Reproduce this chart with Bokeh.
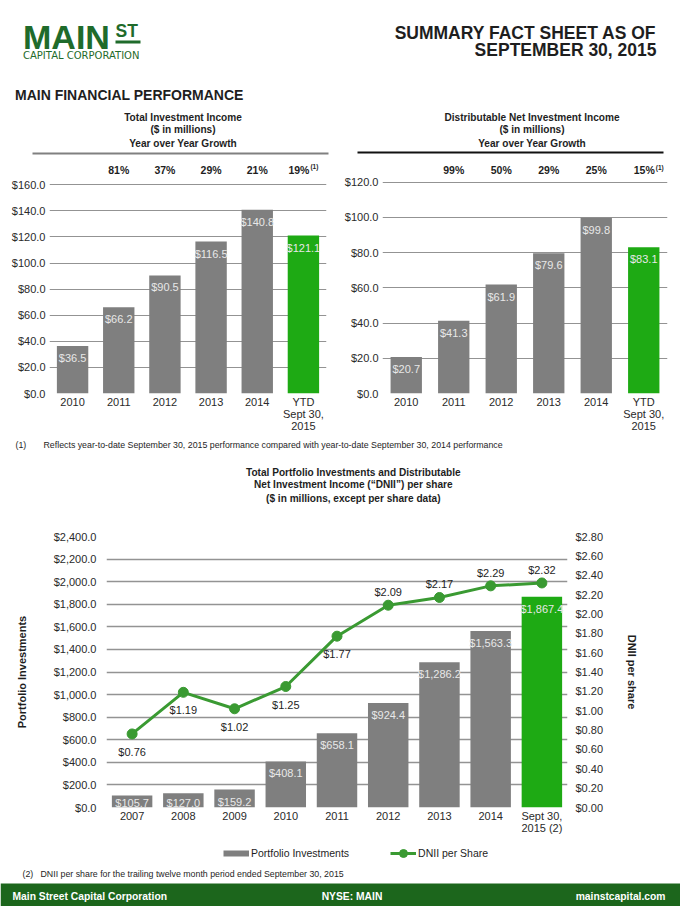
from bokeh.plotting import figure
from bokeh.models import (Range1d, FactorRange, LinearAxis, NumeralTickFormatter,
                          FixedTicker, Legend, LegendItem, ColumnDataSource)
from bokeh.layouts import column, row
from bokeh.core.properties import value
from bokeh.embed import file_html
from bokeh.resources import INLINE

# ---------------- data ----------------
tii_categories = ["2010", "2011", "2012", "2013", "2014", "YTD\nSept 30,\n2015"]
tii_values = [36.5, 66.2, 90.5, 116.5, 140.8, 121.1]
tii_growth = ["81%", "37%", "29%", "21%", "19%"]
tii_ticks = [0, 20, 40, 60, 80, 100, 120, 140, 160]

dnii_categories = ["2010", "2011", "2012", "2013", "2014", "YTD\nSept 30,\n2015"]
dnii_values = [20.7, 41.3, 61.9, 79.6, 99.8, 83.1]
dnii_growth = ["99%", "50%", "29%", "25%", "15%"]
dnii_ticks = [0, 20, 40, 60, 80, 100, 120]

port_categories = ["2007", "2008", "2009", "2010", "2011", "2012", "2013", "2014",
                   "Sept 30,\n2015 (2)"]
port_values = [105.7, 127.0, 159.2, 408.1, 658.1, 924.4, 1286.2, 1563.3, 1867.4]
dnii_per_share = [0.76, 1.19, 1.02, 1.25, 1.77, 2.09, 2.17, 2.29, 2.32]
port_ticks = [0, 200, 400, 600, 800, 1000, 1200, 1400, 1600, 1800, 2000, 2200, 2400]
dps_ticks = [0.0, 0.2, 0.4, 0.6, 0.8, 1.0, 1.2, 1.4, 1.6, 1.8, 2.0, 2.2, 2.4, 2.6, 2.8]

# ---------------- styles ----------------
FONT_NAME = "Liberation Sans"
FONT = value(FONT_NAME)
GRAY = "#7F7F7F"
BRIGHT_GREEN = "#1EAA14"
LINE_GREEN = "#3A9A32"
DARK_GREEN = "#1C661C"
LOGO_GREEN = "#1F6B2B"
GRID = "#939393"
TXT = "#1E1E1E"
W = 680


def canvas(w, h):
    p = figure(width=w, height=h, x_range=Range1d(0, w), y_range=Range1d(h, 0),
               output_backend="svg", toolbar_location=None, title=None,
               x_axis_type=None, y_axis_type=None, min_border=0)
    p.outline_line_color = None
    p.background_fill_color = "white"
    return p


def txt(p, x, y, s, size, bold=False, color=TXT, align="left", font=FONT):
    p.text(x=[x], y=[y], text=[s], text_font=font, text_font_size=f"{size}px",
           text_font_style="bold" if bold else "normal", text_color=color,
           text_align=align, text_baseline="middle")


def style_axis(ax):
    ax.axis_line_color = None
    ax.major_tick_line_color = None
    ax.minor_tick_line_color = None
    ax.major_tick_out = 0
    ax.major_tick_in = 0
    ax.minor_tick_out = 0
    ax.major_label_text_font = FONT_NAME
    ax.major_label_text_font_size = "11px"
    ax.major_label_text_color = "#2A2A2A"
    ax.axis_label_text_font = FONT_NAME
    ax.axis_label_text_font_size = "11px"
    ax.axis_label_text_font_style = "bold"
    ax.axis_label_text_color = TXT


# ---------------- header (page y 0-162) ----------------
pA = canvas(W, 162)
txt(pA, 22.5, 36, "MAIN", 34, bold=True, color=LOGO_GREEN)
txt(pA, 115, 30, "ST", 17.5, bold=True, color=LOGO_GREEN)
pA.quad(left=[115], right=[140], top=[40], bottom=[43], color=LOGO_GREEN, line_color=None)
txt(pA, 22.5, 54.5, "CAPITAL CORPORATION", 10, color=LOGO_GREEN, font=value("DejaVu Sans"))
txt(pA, 656, 32, "SUMMARY FACT SHEET AS OF", 17.5, bold=True, align="right")
txt(pA, 656, 49, "SEPTEMBER 30, 2015", 17.5, bold=True, align="right")
txt(pA, 14.5, 94.7, "MAIN FINANCIAL PERFORMANCE", 14, bold=True)

for cx, lines in ((182.5, ["Total Investment Income", "($ in millions)", "Year over Year Growth"]),
                  (531.5, ["Distributable Net Investment Income", "($ in millions)", "Year over Year Growth"])):
    for yy, s in zip((117, 129, 142.5), lines):
        txt(pA, cx, yy, s, 10.1, bold=True, align="center")
pA.line(x=[32, 328], y=[153, 153], line_color="#808080", line_width=2)
pA.line(x=[357, 663], y=[152, 152], line_color="#111111", line_width=2)

# ---------------- small bar charts (page y 162-440) ----------------
ROW_H = 278
ROW_FRAME_H = 230


def bar_chart(cats, vals, growth, ticks, px_per_unit, bar_w, width, bl, br, sup_dx, gdy):
    ymax = ROW_FRAME_H / px_per_unit
    top_tick = ticks[-1]
    p = figure(width=width, height=ROW_H, x_range=FactorRange(factors=cats),
               y_range=Range1d(0, ymax), output_backend="svg", toolbar_location=None,
               title=None, min_border_left=bl, min_border_right=br, min_border_top=1,
               min_border_bottom=47)
    p.outline_line_color = None
    colors = [GRAY] * (len(vals) - 1) + [BRIGHT_GREEN]
    label_y = [v - 12 / px_per_unit for v in vals]
    src = ColumnDataSource(dict(x=cats, top=vals, color=colors, ly=label_y,
                                label=[f"${v:.1f}" for v in vals]))
    p.vbar(x="x", top="top", width=bar_w, fill_color="color", line_color=None, source=src)
    p.text(x="x", y="ly", text="label", source=src, text_font=FONT, text_font_size="11px",
           text_color="#E8E8E8", text_align="center", text_baseline="middle")
    gy = top_tick + gdy / px_per_unit
    p.text(x=cats[1:-1], y=[gy] * (len(growth) - 1), text=growth[:-1], text_font=FONT,
           text_font_size="10.5px", text_font_style="bold", text_color=TXT,
           text_align="center", text_baseline="middle")
    p.text(x=[cats[-1]], y=[gy], text=[growth[-1]], x_offset=sup_dx, text_font=FONT,
           text_font_size="10.5px", text_font_style="bold", text_color=TXT,
           text_align="right", text_baseline="middle")
    p.text(x=[cats[-1]], y=[gy + 3 / px_per_unit], text=["(1)"], x_offset=sup_dx + 1,
           text_font=FONT, text_font_size="6.5px", text_font_style="bold", text_color=TXT,
           text_align="left", text_baseline="middle")
    p.yaxis.ticker = FixedTicker(ticks=ticks)
    p.yaxis.formatter = NumeralTickFormatter(format="$0.0")
    style_axis(p.xaxis[0])
    style_axis(p.yaxis[0])
    p.yaxis.major_label_standoff = 4
    p.xaxis.major_label_standoff = 2
    p.xaxis.major_label_text_line_height = 1.0
    p.xgrid.visible = False
    p.ygrid.grid_line_color = GRID
    p.ygrid.grid_line_width = 1.2
    return p


p1 = bar_chart(tii_categories, tii_values, tii_growth, tii_ticks, 208.7 / 160, 0.68,
               340, 49, 14, 6, 15)
p2 = bar_chart(dnii_categories, dnii_values, dnii_growth, dnii_ticks, 211.3 / 120, 0.66,
               340, 42, 13, 11, 12)

# ---------------- footnote (1) + bottom title (page y 440-520) ----------------
pC = canvas(W, 80)
txt(pC, 15, 4, "(1)", 8.8)
txt(pC, 43, 4, "Reflects year-to-date September 30, 2015 performance compared with "
               "year-to-date September 30, 2014 performance", 8.8)
for yy, s in zip((32, 44.3, 57.7), ["Total Portfolio Investments and Distributable",
                                    "Net Investment Income (\u201cDNII\u201d) per share",
                                    "($ in millions, except per share data)"]):
    txt(pC, 352.8, yy, s, 10.1, bold=True, align="center")

# ---------------- bottom combo chart (page y 520-841) ----------------
BOT_FRAME_H = 271
ppu_left = BOT_FRAME_H / port_ticks[-1]
ppu_right = BOT_FRAME_H / dps_ticks[-1]
p3 = figure(width=W, height=321, x_range=FactorRange(factors=port_categories),
            y_range=Range1d(0, port_ticks[-1]), output_backend="svg", toolbar_location=None,
            title=None, min_border_left=106, min_border_right=113, min_border_top=16,
            min_border_bottom=34)
p3.outline_line_color = None
p3.extra_y_ranges = {"dps": Range1d(0, dps_ticks[-1])}
colors3 = [GRAY] * (len(port_values) - 1) + [BRIGHT_GREEN]
label_y3 = [max(v - 12 / ppu_left, 5 / ppu_left) for v in port_values]
src3 = ColumnDataSource(dict(x=port_categories, top=port_values, color=colors3, ly=label_y3,
                             label=[f"${v:,.1f}" for v in port_values]))
bars = p3.vbar(x="x", top="top", width=0.79, fill_color="color", line_color=None, source=src3)
p3.text(x="x", y="ly", text="label", source=src3, text_font=FONT, text_font_size="11px",
        text_color="#E8E8E8", text_align="center", text_baseline="middle")
ln = p3.line(x=port_categories, y=dnii_per_share, y_range_name="dps",
             line_color=LINE_GREEN, line_width=3)
sc = p3.scatter(x=port_categories, y=dnii_per_share, y_range_name="dps", marker="circle",
                size=10, fill_color=LINE_GREEN, line_color=LINE_GREEN)
above = [v >= 2.0 for v in dnii_per_share]
dps_ly = [v + 13 / ppu_right if a else v - 18 / ppu_right for v, a in zip(dnii_per_share, above)]
p3.text(x=port_categories, y=dps_ly, text=[f"${v:.2f}" for v in dnii_per_share],
        y_range_name="dps", text_font=FONT, text_font_size="11px", text_color=TXT,
        text_align="center", text_baseline="middle")

p3.yaxis.ticker = FixedTicker(ticks=port_ticks)
p3.yaxis.formatter = NumeralTickFormatter(format="$0,0.0")
p3.yaxis.axis_label = "Portfolio Investments"
right_ax = LinearAxis(y_range_name="dps", ticker=FixedTicker(ticks=dps_ticks),
                      formatter=NumeralTickFormatter(format="$0.00"),
                      axis_label="DNII per share")
p3.add_layout(right_ax, "right")
for ax in (p3.xaxis[0], p3.yaxis[0], right_ax):
    style_axis(ax)
p3.yaxis.axis_label_standoff = 23
p3.yaxis.major_label_standoff = 10
right_ax.axis_label_standoff = 20
right_ax.major_label_standoff = 8
try:
    right_ax.axis_label_orientation = "vertical"
except Exception:
    pass
p3.xaxis.major_label_standoff = 2
p3.xaxis.major_label_text_line_height = 1.0
p3.xgrid.visible = False
p3.ygrid.grid_line_color = GRID
p3.ygrid.grid_line_width = 1.5

# ---------------- legend, footnote (2), footer (page y 841-906) ----------------
pE = canvas(W, 65)
# legend keys: styled like the chart's series, kept outside the visible canvas area
key_bar = pE.line(x=[-60, -50], y=[-60, -60], line_color=GRAY, line_width=6)
key_line = pE.line(x=[-60, -50], y=[-60, -60], line_color=LINE_GREEN, line_width=3)
key_dot = pE.scatter(x=[-60], y=[-60], marker="circle", fill_color=LINE_GREEN,
                     line_color=LINE_GREEN)
legend = Legend(items=[LegendItem(label="Portfolio Investments", renderers=[key_bar]),
                       LegendItem(label="DNII per Share", renderers=[key_line, key_dot])],
                orientation="horizontal", location=(223, 43), border_line_color=None,
                background_fill_alpha=0, label_text_font=FONT_NAME,
                label_text_font_size="10.5px", label_text_color=TXT,
                glyph_width=26, glyph_height=20, spacing=41, label_standoff=2,
                margin=0, padding=2)
pE.add_layout(legend)
txt(pE, 22, 32, "(2)", 8.8)
txt(pE, 40, 32, "DNII per share for the trailing twelve month period ended September 30, 2015", 8.8)
pE.quad(left=[0], right=[W], top=[42], bottom=[65], color=DARK_GREEN, line_color=None)
txt(pE, 12, 55, "Main Street Capital Corporation", 10.3, bold=True, color="white")
txt(pE, 351.5, 55, "NYSE: MAIN", 10.3, bold=True, color="white", align="center")
txt(pE, 665, 55, "mainstcapital.com", 10.3, bold=True, color="white", align="right")

layout = column(row(pA), row(p1, p2, spacing=0), row(pC), row(p3), row(pE), spacing=0)
open("out.html", "w").write(file_html(layout, INLINE))
